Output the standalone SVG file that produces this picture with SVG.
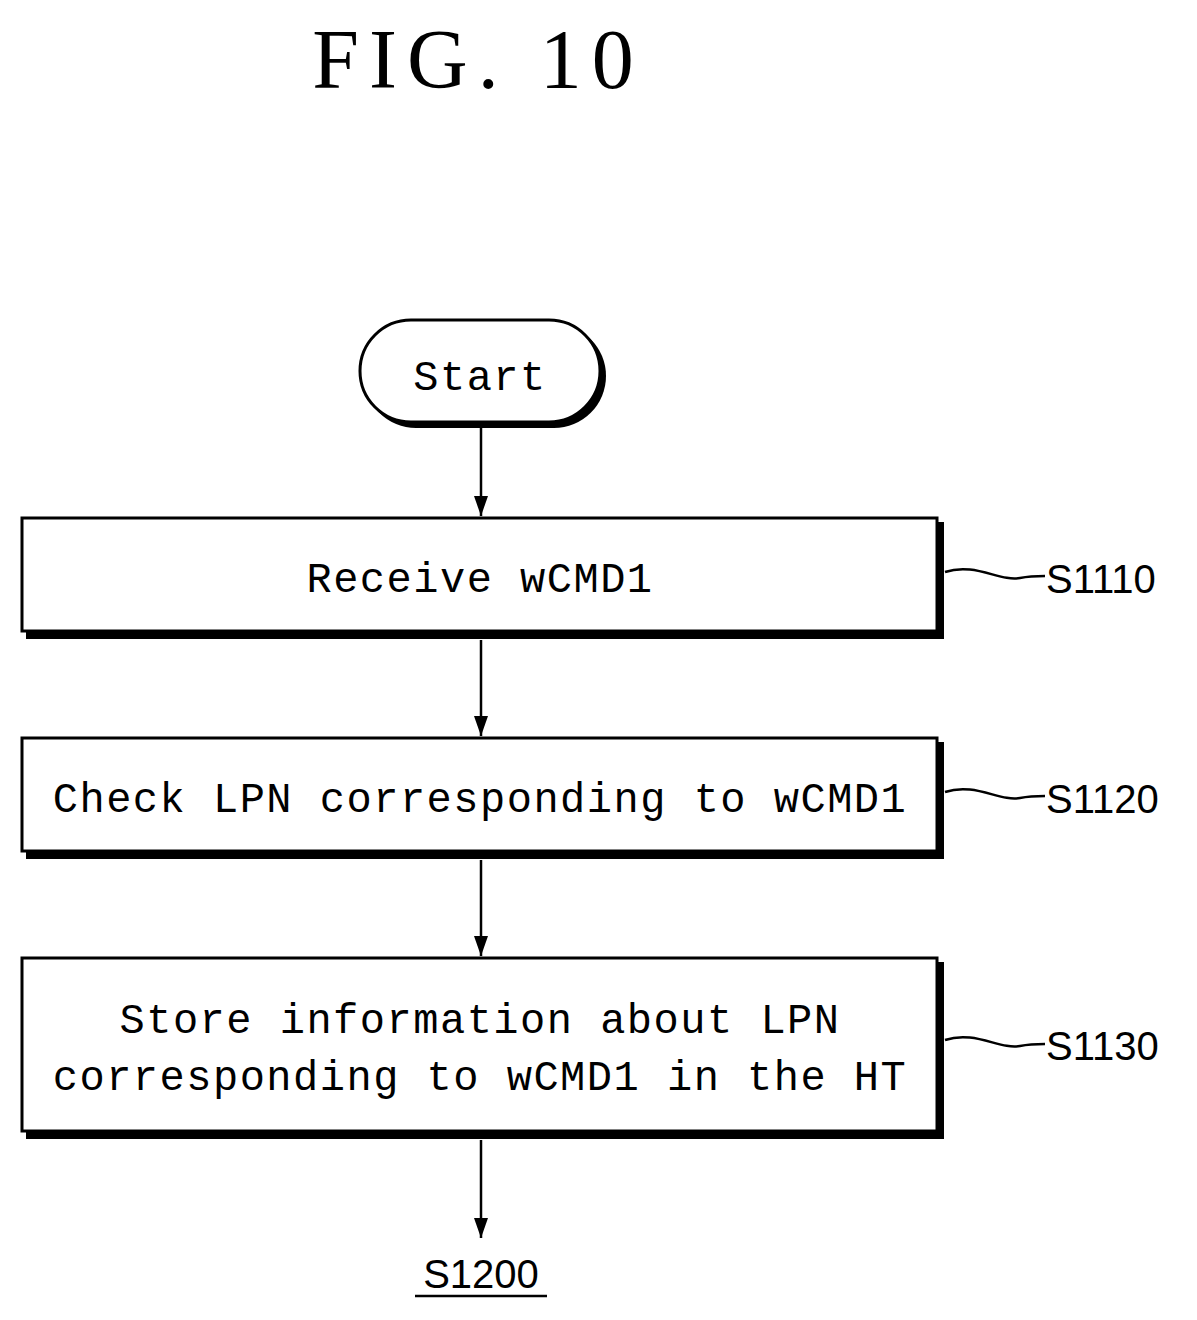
<svg xmlns="http://www.w3.org/2000/svg" width="1197" height="1320" viewBox="0 0 1197 1320">
<style>
.t{font-family:"Liberation Mono",monospace;font-size:42px;fill:#000;letter-spacing:1.5px}
.l{font-family:"Liberation Sans",sans-serif;font-size:40px;fill:#000}
.b{fill:#fff;stroke:#000;stroke-width:3}
.s{fill:#000}
.c{stroke:#000;stroke-width:2.5;fill:none}
</style>
<defs><marker id="a" markerWidth="20" markerHeight="14" refX="20" refY="7" orient="auto" markerUnits="userSpaceOnUse" viewBox="0 0 20 14"><path d="M0,0 L20,7 L0,14 Z" fill="#000"/></marker></defs>
<rect width="1197" height="1320" fill="#fff"/>
<text x="478" y="88" font-family="Liberation Serif,serif" font-size="84" text-anchor="middle" letter-spacing="10">FIG. 10</text>
<g id="start"><rect x="364" y="324" width="242" height="104" rx="52" class="s"/><rect x="360" y="320" width="240" height="102" rx="51" class="b"/><text x="480" y="390" class="t" text-anchor="middle">Start</text></g>
<g id="s1110"><rect x="26" y="522" width="918" height="117" class="s"/><rect x="22" y="518" width="915" height="113" class="b"/><text x="480" y="592" class="t" text-anchor="middle">Receive wCMD1</text><text x="1046" y="593" class="l">S1110</text></g>
<g id="s1120"><rect x="26" y="742" width="918" height="117" class="s"/><rect x="22" y="738" width="915" height="113" class="b"/><text x="480" y="812" class="t" text-anchor="middle">Check LPN corresponding to wCMD1</text><text x="1046" y="813" class="l">S1120</text></g>
<g id="s1130"><rect x="26" y="962" width="918" height="177" class="s"/><rect x="22" y="958" width="915" height="173" class="b"/><text x="480" y="1033" class="t" text-anchor="middle">Store information about LPN</text><text x="480" y="1090" class="t" text-anchor="middle">corresponding to wCMD1 in the HT</text><text x="1046" y="1060" class="l">S1130</text></g>
<g id="s1200"><text x="481" y="1288" class="l" text-anchor="middle">S1200</text><line x1="415" y1="1296" x2="547" y2="1296" stroke="#000" stroke-width="2.5"/></g>
<g id="connectors">
<line x1="481" y1="428" x2="481" y2="516" class="c" marker-end="url(#a)"/>
<line x1="481" y1="640" x2="481" y2="736" class="c" marker-end="url(#a)"/>
<line x1="481" y1="860" x2="481" y2="956" class="c" marker-end="url(#a)"/>
<line x1="481" y1="1140" x2="481" y2="1238" class="c" marker-end="url(#a)"/>
<path d="M945,572 C975,562 1000,582 1020,578 C1030,576 1038,576 1045,576" class="c"/>
<path d="M945,792 C975,782 1000,802 1020,798 C1030,796 1038,796 1045,796" class="c"/>
<path d="M945,1040 C975,1030 1000,1050 1020,1046 C1030,1044 1038,1044 1045,1044" class="c"/>
</g>
</svg>
